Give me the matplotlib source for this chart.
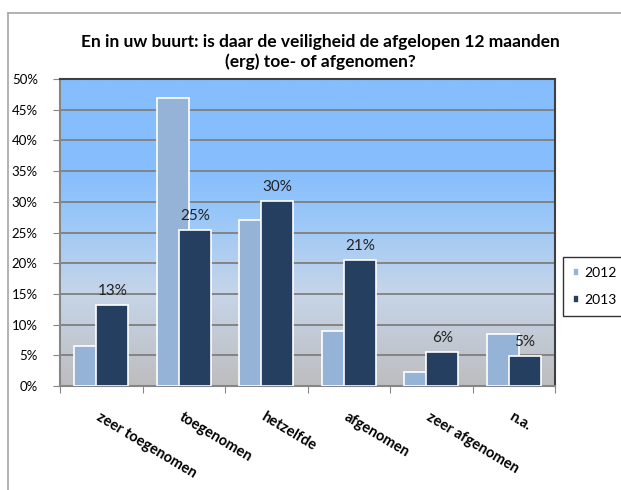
import numpy as np
import matplotlib.pyplot as plt
from matplotlib.colors import LinearSegmentedColormap
from matplotlib.lines import Line2D

# data (fractions)
categories = ['zeer toegenomen', 'toegenomen', 'hetzelfde', 'afgenomen',
              'zeer afgenomen', 'n.a.']
values_2012 = [0.065, 0.469, 0.271, 0.089, 0.023, 0.085]
values_2013 = [0.132, 0.254, 0.301, 0.206, 0.056, 0.049]
labels_2013 = ['13%', '25%', '30%', '21%', '6%', '5%']
series_names = ['2012', '2013']
yticks = [0, 0.05, 0.10, 0.15, 0.20, 0.25, 0.30, 0.35, 0.40, 0.45, 0.50]

plt.rcParams['font.family'] = ['Lato', 'DejaVu Sans']

fig = plt.figure(figsize=(6.21, 4.9), dpi=100)
ax = fig.add_axes([60 / 621, 1 - 386 / 490, 495 / 621, 307 / 490])

# chart outer border (only top and left visible in the reference)
fig.add_artist(Line2D([8 / 621, 8 / 621], [0, 1 - 13 / 490],
                      transform=fig.transFigure, color='#a6a6a6', lw=1.2))
fig.add_artist(Line2D([8 / 621, 1], [1 - 13 / 490, 1 - 13 / 490],
                      transform=fig.transFigure, color='#a6a6a6', lw=1.2))

# gradient background of the plot area
cmap = LinearSegmentedColormap.from_list('bg', [
    (0.0, '#bdbdbf'), (0.3, '#c6d5e8'), (0.55, '#9ac7f8'),
    (0.7, '#86befd'), (1.0, '#86befd')])
grad = np.linspace(0, 1, 256).reshape(-1, 1)
ax.imshow(grad, extent=[-0.5, 5.5, 0, 0.5], origin='lower', aspect='auto',
          cmap=cmap, zorder=0)

x = np.arange(len(categories))
w = 0.39
ax.bar(x - 0.135, values_2012, w, color='#95b3d7', edgecolor='white',
       linewidth=1.2, zorder=3, label=series_names[0])
bars = ax.bar(x + 0.135, values_2013, w, color='#243f60', edgecolor='white',
              linewidth=1.2, zorder=4, label=series_names[1])

for bar, lab in zip(bars, labels_2013):
    ax.text(bar.get_x() + bar.get_width() / 2, bar.get_height() + 0.011, lab,
            ha='center', va='bottom', fontsize=11, color='#222222', zorder=5)

ax.set_xlim(-0.5, 5.5)
ax.set_ylim(0, 0.5)
ax.set_yticks(yticks)
ax.set_yticklabels([f'{int(round(t * 100))}%' for t in yticks], fontsize=9.5)
ax.yaxis.grid(True, color='#7f7f7f', linewidth=1.3, zorder=1)
ax.set_axisbelow(True)

# tick marks at category boundaries, labels at the centers
ax.set_xticks(np.arange(-0.5, 6, 1))
ax.set_xticklabels([])
ax.set_xticks(x, minor=True)
ax.set_xticklabels(categories, minor=True, fontsize=10.5, fontweight='bold',
                   rotation=-31, ha='left', va='top', rotation_mode='anchor')
ax.tick_params(axis='x', which='minor', length=0, pad=17)
ax.tick_params(axis='x', which='major', length=5, color='#868686')
ax.tick_params(axis='y', length=5, color='#868686', pad=11)

for side in ['left', 'bottom']:
    ax.spines[side].set_color('#868686')
    ax.spines[side].set_linewidth(1.5)
for side in ['top', 'right']:
    ax.spines[side].set_color('#3f3f3f')
    ax.spines[side].set_linewidth(1.5)

fig.text(320 / 621, 1 - 52 / 490,
         'En in uw buurt: is daar de veiligheid de afgelopen 12 maanden\n'
         '(erg) toe- of afgenomen?',
         ha='center', va='center', fontsize=12.5, fontweight='bold',
         linespacing=1.3)

leg = fig.legend(loc='upper left', bbox_to_anchor=(563 / 621, 1 - 257 / 490),
                 fontsize=10, frameon=True, fancybox=False, edgecolor='black',
                 handlelength=0.45, handleheight=0.45, handletextpad=0.4,
                 labelspacing=1.1, borderpad=0.7, borderaxespad=0)
leg.get_frame().set_linewidth(1.0)

fig.savefig('out.png', dpi=100)
